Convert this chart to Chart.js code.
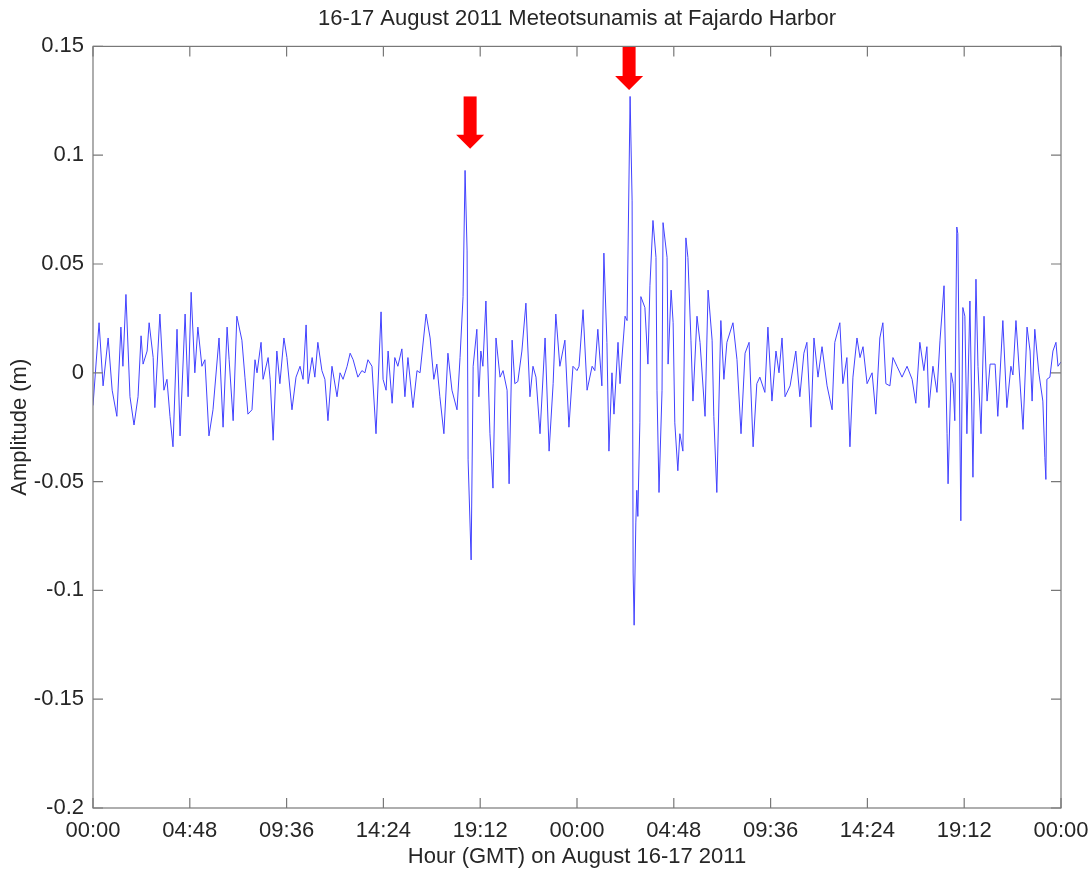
<!DOCTYPE html>
<html>
<head>
<meta charset="utf-8">
<script src="https://cdn.jsdelivr.net/npm/chart.js@4"></script>
<style>body{margin:0;background:#fff}</style>
</head>
<body>
<canvas id="chart-1" width="1092" height="871"></canvas>
<script>
// minutes since 00:00 GMT 16 Aug 2011
const times = [0,18,30,45,57,71,83,89,98,110,122,134,143,149,161,167,179,184,199,211,220,229,238,250,259,274,283,292,303,312,324,333,345,357,375,387,399,405,417,428,443,452,461,473,482,488,500,506,521,527,536,547,556,568,577,592,604,616,625,634,640,652,660,669,681,690,699,711,726,735,744,756,765,774,788,800,809,818,830,842,857,863,872,878,890,898,907,919,928,937,952,964,973,991,1003,1014,1023,1032,1044,1056,1068,1083,1092,1101,1107,1113,1116,1125,1131,1142,1148,1154,1160,1169,1181,1190,1199,1211,1220,1232,1238,1247,1255,1264,1276,1288,1300,1309,1318,1330,1345,1357,1369,1377,1389,1404,1416,1428,1440,1446,1458,1470,1485,1493,1502,1514,1520,1529,1535,1544,1550,1562,1568,1583,1589,1598,1604,1607,1610,1615,1618,1621,1627,1630,1642,1651,1657,1666,1675,1678,1684,1693,1696,1708,1711,1720,1726,1731,1740,1746,1755,1764,1770,1779,1785,1797,1806,1821,1830,1842,1847,1856,1868,1877,1886,1904,1916,1928,1940,1952,1964,1975,1984,1999,2008,2020,2032,2041,2050,2059,2074,2091,2103,2115,2124,2136,2145,2157,2169,2184,2199,2207,2222,2231,2243,2252,2261,2273,2282,2291,2303,2318,2329,2341,2350,2359,2371,2380,2392,2407,2422,2437,2448,2460,2472,2481,2487,2499,2511,2520,2532,2541,2544,2553,2559,2564,2570,2573,2582,2588,2594,2600,2609,2618,2627,2633,2642,2651,2660,2669,2684,2692,2707,2719,2731,2737,2746,2752,2767,2779,2788,2794,2802,2814,2826,2832,2835,2838,2847,2856,2865,2871,2880];

// amplitude (m)
const amplitude = [-0.015,0.023,-0.006,0.016,-0.008,-0.020,0.021,0.003,0.036,-0.011,-0.024,-0.011,0.017,0.004,0.010,0.023,0.007,-0.016,0.027,-0.008,-0.003,-0.020,-0.034,0.020,-0.029,0.027,-0.011,0.037,0.000,0.021,0.003,0.006,-0.029,-0.017,0.016,-0.025,0.021,0.006,-0.022,0.026,0.015,-0.002,-0.019,-0.017,0.006,0.000,0.014,-0.003,0.007,-0.003,-0.031,0.010,-0.005,0.016,0.007,-0.017,-0.002,0.003,-0.003,0.022,-0.005,0.007,-0.002,0.014,0.001,-0.003,-0.022,0.003,-0.011,0.000,-0.003,0.003,0.009,0.006,-0.002,0.001,0.000,0.006,0.003,-0.028,0.028,-0.003,-0.008,0.010,-0.014,0.007,0.003,0.011,-0.011,0.007,-0.016,0.001,0.000,0.027,0.016,-0.003,0.004,-0.011,-0.028,0.009,-0.008,-0.017,0.007,0.035,0.093,0.056,-0.040,-0.086,0.003,0.020,-0.011,0.010,0.003,0.033,-0.028,-0.053,0.016,-0.002,0.001,-0.008,-0.051,0.015,-0.005,-0.004,0.010,0.032,-0.011,0.003,-0.002,-0.028,0.016,-0.036,-0.005,0.027,0.003,0.015,-0.025,0.003,0.001,0.003,0.029,-0.008,0.003,0.001,0.020,-0.006,0.055,0.014,-0.036,0.000,-0.019,0.014,-0.005,0.026,0.024,0.127,0.079,-0.092,-0.116,-0.069,-0.054,-0.066,-0.023,0.035,0.030,0.004,0.040,0.070,0.053,-0.008,-0.055,-0.008,0.069,0.053,0.004,0.038,0.023,-0.023,-0.045,-0.028,-0.036,0.062,0.053,0.015,-0.013,0.026,0.014,-0.020,0.038,0.015,-0.020,-0.055,0.024,-0.003,0.014,0.023,0.006,-0.028,0.009,0.014,-0.034,-0.005,-0.002,-0.009,0.021,-0.013,0.010,0.000,0.016,-0.011,-0.006,0.010,-0.011,0.009,0.014,-0.025,0.016,-0.002,0.012,-0.006,-0.017,0.014,0.023,-0.005,0.007,-0.034,-0.002,0.016,0.007,0.012,-0.005,0.000,-0.019,0.016,0.023,-0.005,-0.006,0.007,0.003,-0.002,0.003,-0.003,-0.014,0.014,0.001,0.012,-0.016,0.003,-0.009,0.015,0.040,-0.028,-0.051,0.000,-0.005,-0.022,0.067,0.064,-0.068,0.030,0.026,-0.028,0.033,-0.048,0.043,0.003,-0.028,0.026,-0.013,0.004,0.004,-0.020,0.024,-0.016,0.003,-0.001,0.024,0.010,-0.026,0.021,0.010,-0.013,0.020,0.000,-0.013,-0.039,-0.049,-0.003,-0.002,0.010,0.014,0.003,0.005];

const xTickLabels = ["00:00","04:48","09:36","14:24","19:12","00:00","04:48","09:36","14:24","19:12","00:00"];
const yTickLabels = ["-0.2","-0.15","-0.1","-0.05","0","0.05","0.1","0.15"];

// red arrows marking the two meteotsunami peaks
const arrowTimes = [1122, 1595];
const arrowTops = [0.127, 0.150];
const arrowTips = [0.103, 0.130];

var points = [];
for (var i = 0; i < times.length; i++) {
	points.push({x: times[i], y: amplitude[i]});
}

const textColour = "#262626";
const font22 = {family: "'Liberation Sans', Arial, sans-serif", size: 22};

const frameTicks = {
	id: 'frameTicks',
	afterDraw: chart => {
		let ctx = chart.ctx;
		let a = chart.chartArea;
		let xs = chart.scales.x, ys = chart.scales.y;
		ctx.save();
		ctx.strokeStyle = "#787878";
		ctx.lineWidth = 1.2;
		ctx.strokeRect(a.left, a.top, a.right - a.left, a.bottom - a.top);
		ctx.beginPath();
		xs.ticks.forEach(t => {
			let px = xs.getPixelForValue(t.value);
			ctx.moveTo(px, a.top); ctx.lineTo(px, a.top + 10);
			ctx.moveTo(px, a.bottom); ctx.lineTo(px, a.bottom - 10);
		});
		ys.ticks.forEach(t => {
			let py = ys.getPixelForValue(t.value);
			ctx.moveTo(a.left, py); ctx.lineTo(a.left + 10, py);
			ctx.moveTo(a.right, py); ctx.lineTo(a.right - 10, py);
		});
		ctx.stroke();
		ctx.restore();
	}
};

const arrows = {
	id: 'arrows',
	afterDatasetsDraw: chart => {
		let ctx = chart.ctx;
		let xs = chart.scales.x, ys = chart.scales.y;
		ctx.save();
		ctx.fillStyle = "#ff0000";
		for (var i = 0; i < arrowTimes.length; i++) {
			let x = xs.getPixelForValue(arrowTimes[i]);
			let top = ys.getPixelForValue(arrowTops[i]);
			let tip = ys.getPixelForValue(arrowTips[i]);
			let headH = 14;
			ctx.fillRect(x - 6.5, top, 13, tip - headH - top + 1);
			ctx.beginPath();
			ctx.moveTo(x - 14, tip - headH);
			ctx.lineTo(x + 14, tip - headH);
			ctx.lineTo(x, tip);
			ctx.closePath();
			ctx.fill();
		}
		ctx.restore();
	}
};

var graph = new Chart('chart-1', {
	type: 'line',
	data: {
		datasets: [{
			data: points,
			borderColor: "#4242ff",
			borderWidth: 1,
			pointRadius: 0,
			tension: 0,
			fill: false
		}]
	},
	plugins: [frameTicks, arrows],
	options: {
		responsive: false,
		animation: false,
		layout: {padding: {left: 0, right: 31, top: 0, bottom: 0}},
		plugins: {
			legend: {display: false},
			tooltip: {enabled: false},
			title: {
				display: true,
				fullSize: false,
				text: "16-17 August 2011 Meteotsunamis at Fajardo Harbor",
				color: textColour,
				font: Object.assign({weight: 'normal'}, font22),
				padding: {top: 6, bottom: 14}
			}
		},
		scales: {
			x: {
				type: 'linear',
				min: 0,
				max: 2880,
				grid: {display: false},
				border: {display: false},
				afterBuildTicks: scale => {
					scale.ticks = xTickLabels.map((l, i) => ({value: i * 288}));
				},
				afterFit: scale => {
					scale.height = 63;
					scale.paddingLeft = 0;
					scale.paddingRight = 0;
				},
				ticks: {
					color: textColour,
					font: font22,
					padding: 2,
					maxRotation: 0,
					autoSkip: false,
					callback: (v, i) => xTickLabels[i]
				},
				title: {
					display: true,
					text: "Hour (GMT) on August 16-17 2011",
					color: textColour,
					font: font22,
					padding: {top: 0, bottom: 1}
				}
			},
			y: {
				min: -0.2,
				max: 0.15,
				grid: {display: false},
				border: {display: false},
				afterBuildTicks: scale => {
					scale.ticks = yTickLabels.map(l => ({value: parseFloat(l)}));
				},
				afterFit: scale => {
					scale.width = 93;
					scale.paddingTop = 0;
					scale.paddingBottom = 0;
				},
				ticks: {
					color: textColour,
					font: font22,
					padding: 1,
					autoSkip: false,
					callback: (v, i) => yTickLabels[i]
				},
				title: {
					display: true,
					text: "Amplitude (m)",
					color: textColour,
					font: font22,
					padding: {top: 7, bottom: 0}
				}
			}
		}
	}
});
</script>
</body>
</html>
